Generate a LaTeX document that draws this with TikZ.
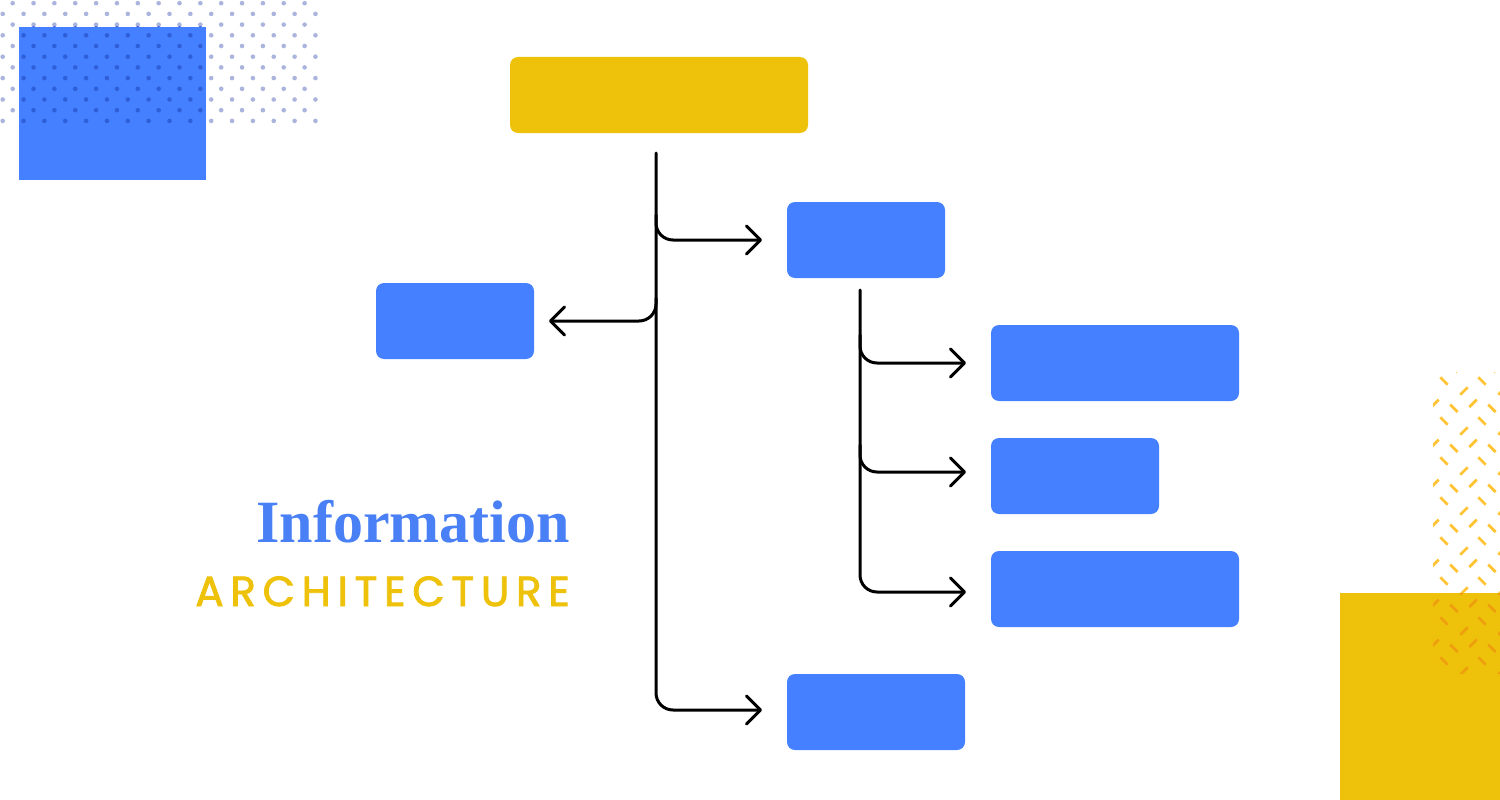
\documentclass[tikz,border=0pt]{standalone}
\usepackage{fontspec}
\usetikzlibrary{arrows.meta}
\newfontfamily\infofont{Liberation Serif}
\newfontfamily\archfont[LetterSpace=16,FakeBold=2]{Poppins}
\definecolor{iablue}{HTML}{4480FF}
\definecolor{iayellow}{HTML}{EEC20B}
\definecolor{dotlight}{HTML}{AAB4DC}
\definecolor{dotdark}{HTML}{2F5FD8}
\definecolor{dashlight}{HTML}{FFC433}
\definecolor{dashdark}{HTML}{EE9F0E}
\definecolor{infoblue}{HTML}{4A80F5}
\tikzset{
  boxbase/.style={rounded corners=8pt, inner sep=0pt, outer sep=0pt, draw=none},
  bluebox/.style={boxbase, fill=iablue},
  yellowbox/.style={boxbase, fill=iayellow},
  conn/.style={line width=3pt, line cap=round, line join=round, rounded corners=17pt,
    -{Straight Barb[length=14pt,width=28pt,line join=round,line cap=round]}},
  dashmark/.style={line width=2.8pt},
}
\begin{document}
\begin{tikzpicture}[x=1pt,y=-1pt]
\useasboundingbox[fill=white] (0,0) rectangle (1500,800);
% ---- dotted pattern top-left
\foreach \r in {0,...,5} {
  \foreach \c in {0,...,14} \fill[dotlight] (12.7+\c*20.85, 3.2+\r*21.4) circle (2.3pt);
  \foreach \c in {0,...,15} \fill[dotlight] (2.7+\c*20.85, 13.9+\r*21.4) circle (2.3pt);
}
\fill[iablue] (19,27) rectangle (206,180);
\begin{scope}
  \clip (19,27) rectangle (206,180);
  \foreach \r in {0,...,5} {
    \foreach \c in {0,...,14} \fill[dotdark] (12.7+\c*20.85, 3.2+\r*21.4) circle (2.3pt);
    \foreach \c in {0,...,15} \fill[dotdark] (2.7+\c*20.85, 13.9+\r*21.4) circle (2.3pt);
  }
\end{scope}
% ---- dash pattern right
\begin{scope}
  \clip (1433,372) rectangle (1500,673);
  \foreach \i in {-1,0,1} {
    \foreach \j in {-1,...,8} {
      \begin{scope}[shift={(1444+\i*38, 381+\j*40)}]
        \draw[dashmark, dashlight] (-3.7,-3.7) -- (3.7,3.7);
        \draw[dashmark, dashlight] (16.3,13.7) -- (23.7,6.3);
        \draw[dashmark, dashlight] (25.3,26) -- (32.7,18.6);
        \draw[dashmark, dashlight] (6.3,23.6) -- (13.7,31);
      \end{scope}
    }
  }
\end{scope}
\fill[iayellow] (1339.5,593) rectangle (1500,800);
\begin{scope}
  \clip (1433,593) rectangle (1500,673);
  \foreach \i in {-1,0,1} {
    \foreach \j in {4,...,8} {
      \begin{scope}[shift={(1444+\i*38, 381+\j*40)}]
        \draw[dashmark, dashdark] (-3.7,-3.7) -- (3.7,3.7);
        \draw[dashmark, dashdark] (16.3,13.7) -- (23.7,6.3);
        \draw[dashmark, dashdark] (25.3,26) -- (32.7,18.6);
        \draw[dashmark, dashdark] (6.3,23.6) -- (13.7,31);
      \end{scope}
    }
  }
\end{scope}
% ---- boxes
\node[yellowbox, minimum width=298pt, minimum height=76pt] (top) at (659,95) {};
\node[bluebox, minimum width=158pt, minimum height=76pt] (b1) at (866,240) {};
\node[bluebox, minimum width=158pt, minimum height=76pt] (b2) at (455,321) {};
\node[bluebox, minimum width=248pt, minimum height=76pt] (b3) at (1115,363) {};
\node[bluebox, minimum width=168pt, minimum height=76pt] (b4) at (1075,476) {};
\node[bluebox, minimum width=248pt, minimum height=76pt] (b5) at (1115,589) {};
\node[bluebox, minimum width=178pt, minimum height=76pt] (b6) at (876,712) {};
% ---- connectors
\coordinate (tr0) at (656,153);
\coordinate (tr1) at (656,215);
\coordinate (tr2) at (656,298);
\coordinate (sr0) at (860,290);
\coordinate (sr1) at (860,335);
\coordinate (sr2) at (860,445);
\draw[conn, shorten >=25pt] (tr0) |- ([yshift=2pt]b6.west);
\draw[conn, shorten >=25pt] (tr1) |- (b1.west);
\draw[conn, shorten >=15pt] (tr2) |- (b2.east);
\draw[conn, shorten >=25pt] (sr0) |- ([yshift=-3pt]b5.west);
\draw[conn, shorten >=25pt] (sr1) |- (b3.west);
\draw[conn, shorten >=25pt] (sr2) |- ([yshift=4pt]b4.west);
% ---- title
\node[anchor=base east, inner sep=0pt, text=infoblue, font=\infofont\bfseries\fontsize{60}{60}\selectfont] (info) at (570,542) {Information};
\node[anchor=base east, inner sep=0pt, text=iayellow, font=\archfont\fontsize{42}{42}\selectfont] (arch) at (570,606) {ARCHITECTURE};
\end{tikzpicture}
\end{document}
